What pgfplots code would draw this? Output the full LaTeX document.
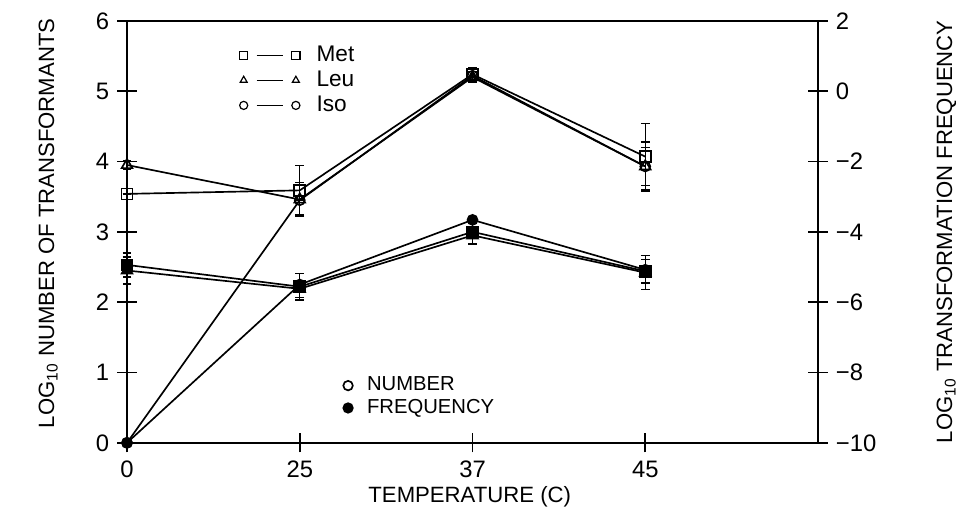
\documentclass[border=0pt]{standalone}
\usepackage{fontspec}
\setmainfont{Liberation Sans}
\usepackage{pgfplots}
\pgfplotsset{compat=1.18}
\begin{document}
\begin{tikzpicture}
\pgfplotsset{
  base/.style={
    width=290.2pt, height=177.2pt, scale only axis,
    xmin=0, xmax=4,
    clip=false,
    tick align=center,
    major tick length=8pt,
    axis line style={line width=0.8pt},
    every tick/.style={line width=0.7pt, black},
    /pgf/number format/assume math mode=true,
    tick label style={font=\fontsize{10}{12}\selectfont},
    label style={font=\fontsize{9.3}{11}\selectfont},
    every axis plot/.append style={black, line width=0.7pt},
    error bars/error bar style={line width=0.6pt},
    error bars/error mark options={rotate=90, mark size=1.8pt, line width=0.6pt},
  },
}
\begin{axis}[base,
  ymin=0, ymax=6,
  xtick={0,1,2,3}, xticklabels={0,25,37,45},
  xtick pos=bottom, ytick pos=left,
  ytick={0,1,2,3,4,5,6}, yticklabels={0,1,2,3,4,5,6},
  xlabel={TEMPERATURE (C)},
  ylabel={LOG\textsubscript{10} NUMBER OF TRANSFORMANTS},
  xlabel style={at={(axis description cs:0.496,-0.127)}, anchor=center},
  ylabel style={at={(axis description cs:-0.114,0.52)}, anchor=center},
  legend style={at={(axis description cs:0.152,0.965)}, anchor=north west, draw=none, fill=none,
    font=\fontsize{9.5}{11}\selectfont, row sep=-1.5pt,
    /tikz/every odd column/.append style={column sep=5pt}},
  legend cell align=left,
  legend image code/.code={
    \draw[#1, mark=none, line width=0.5pt] (0.19cm,0cm) -- (0.58cm,0cm);
    \draw[#1, only marks, mark size=1.7pt, line width=0.5pt] plot coordinates {(0cm,0cm) (0.77cm,0cm)};
  },
]
\coordinate (BBsw) at (rel axis cs:-0.1838,-0.1543);
\coordinate (BBne) at (rel axis cs:1.1997,1.0495);
\addlegendimage{black, mark=square, mark options={solid}}
\addlegendentry{Met}
\addlegendimage{black, mark=triangle, mark options={solid}}
\addlegendentry{Leu}
\addlegendimage{black, mark=o, mark options={solid}}
\addlegendentry{Iso}
% Number of transformants (open marks)
\addplot[forget plot, mark=square, mark size=2.3pt, mark options={fill=white},
  error bars/.cd, y dir=both, y explicit]
  coordinates {(0,3.54) +- (0,0) (1,3.59) +- (0,0.35) (2,5.24) +- (0,0.10) (3,4.07) +- (0,0.47)};
\addplot[forget plot, mark=triangle, mark size=2.6pt, mark options={fill=white},
  error bars/.cd, y dir=both, y explicit]
  coordinates {(0,3.95) +- (0,0.06) (1,3.46) +- (0,0.24) (2,5.20) +- (0,0.08) (3,3.93) +- (0,0.35)};
\addplot[forget plot, mark=o, mark size=2.1pt, mark options={fill=white},
  error bars/.cd, y dir=both, y explicit]
  coordinates {(0,0.00) +- (0,0) (1,3.45) +- (0,0) (2,5.22) +- (0,0.10) (3,3.93) +- (0,0.27)};
\end{axis}
\begin{axis}[base,
  ymin=-10, ymax=2,
  axis x line=none, axis y line*=right,
  ytick={-10,-8,-6,-4,-2,0,2}, yticklabels={−10,−8,−6,−4,−2,0,2},
  ylabel={LOG\textsubscript{10} TRANSFORMATION FREQUENCY},
  ylabel style={at={(axis description cs:1.186,0.5)}, anchor=center},
  legend style={at={(axis description cs:0.302,0.18)}, anchor=north west, draw=none, fill=none,
    font=\fontsize{8.5}{10}\selectfont, row sep=-2pt,
    /tikz/every odd column/.append style={column sep=4pt}},
  legend cell align=left,
]
\addlegendimage{only marks, black, mark=o, mark size=2pt}
\addlegendentry{NUMBER}
\addlegendimage{only marks, black, mark=*, mark size=2pt}
\addlegendentry{FREQUENCY}
% Transformation frequency (filled marks)
\addplot[forget plot, mark=square*, mark size=2.3pt,
  error bars/.cd, y dir=both, y explicit]
  coordinates {(0,-4.94) +- (0,0.34) (1,-5.56) +- (0,0.38) (2,-4.00) +- (0,0.35) (3,-5.12) +- (0,0.34)};
\addplot[forget plot, mark=triangle*, mark size=2.6pt,
  error bars/.cd, y dir=both, y explicit]
  coordinates {(0,-5.10) +- (0,0.38) (1,-5.62) +- (0,0.24) (2,-4.10) +- (0,0.26) (3,-5.16) +- (0,0.48)};
\addplot[forget plot, mark=*, mark size=2.1pt,
  error bars/.cd, y dir=both, y explicit]
  coordinates {(0,-10.00) +- (0,0) (1,-5.50) +- (0,0) (2,-3.66) +- (0,0.10) (3,-5.08) +- (0,0)};
\end{axis}
\pgfresetboundingbox
\useasboundingbox (BBsw) rectangle (BBne);
\end{tikzpicture}
\end{document}
